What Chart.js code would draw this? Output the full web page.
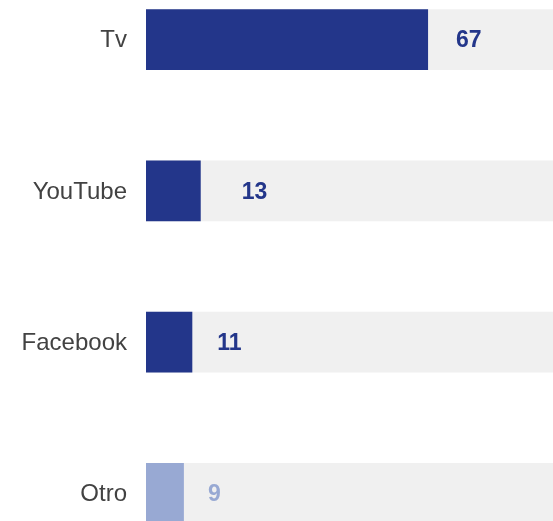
<!DOCTYPE html>
<html>
<head>
<meta charset="utf-8">
<script src="https://cdn.jsdelivr.net/npm/chart.js@4"></script>
<style>
  html, body { margin: 0; padding: 0; background: #fff; overflow: hidden; }
  body { width: 553px; height: 521px; position: relative; }
  #mediaChart { position: absolute; left: 0; top: -36px; }
</style>
</head>
<body>
<canvas id="mediaChart" width="567" height="605"></canvas>
<script>
// Data
const categories = ["Tv", "YouTube", "Facebook", "Otro"];
const values = [67, 13, 11, 9];
const trackValues = [100, 100, 100, 100];
const barColors = ["#23368a", "#23368a", "#23368a", "#98a9d3"];
// gap between bar end and value label
const labelPad = [28, 41, 25, 24];

// Custom plugin: category names left of the plot, values right of each bar
const barLabels = {
  id: "barLabels",
  afterDatasetsDraw(chart) {
    const { ctx, chartArea, scales } = chart;
    const meta = chart.getDatasetMeta(0);
    ctx.save();
    ctx.textBaseline = "middle";

    ctx.font = "24px 'Liberation Sans', Arial, sans-serif";
    ctx.fillStyle = "#424242";
    ctx.textAlign = "right";
    categories.forEach((name, i) => {
      ctx.fillText(name, chartArea.left - 19, scales.y.getPixelForTick(i) + 1);
    });

    ctx.font = "bold 23px 'Liberation Sans', Arial, sans-serif";
    ctx.textAlign = "left";
    meta.data.forEach((bar, i) => {
      ctx.fillStyle = barColors[i];
      ctx.fillText(String(values[i]), bar.x + labelPad[i], bar.y + 1.5);
    });
    ctx.restore();
  },
};

const ctx = document.getElementById("mediaChart").getContext("2d");
new Chart(ctx, {
  type: "bar",
  data: {
    labels: categories,
    datasets: [
      {
        data: values,
        backgroundColor: barColors,
        borderWidth: 0,
        grouped: false,
        order: 0,
        barPercentage: 0.403,
        categoryPercentage: 1,
      },
      {
        data: trackValues,
        backgroundColor: "#f0f0f0",
        borderWidth: 0,
        grouped: false,
        order: 1,
        barPercentage: 0.403,
        categoryPercentage: 1,
      },
    ],
  },
  options: {
    indexAxis: "y",
    responsive: false,
    animation: false,
    devicePixelRatio: 1,
    layout: { padding: { left: 146, top: 0, right: 0, bottom: 0 } },
    plugins: {
      legend: { display: false },
      tooltip: { enabled: false },
    },
    scales: {
      x: {
        display: false,
        min: 0,
        max: 100,
      },
      y: {
        display: false,
      },
    },
  },
  plugins: [barLabels],
});
</script>
</body>
</html>
